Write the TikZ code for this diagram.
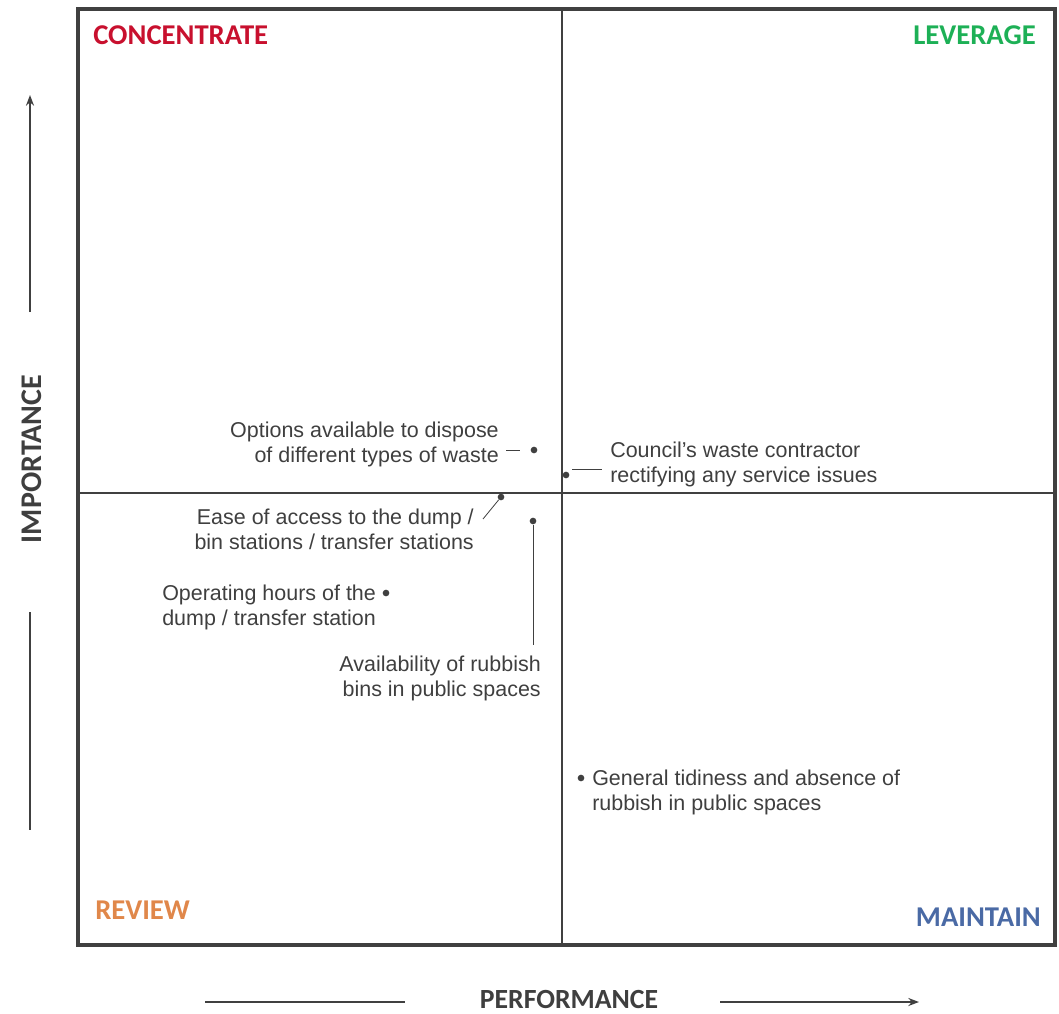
\documentclass[tikz,border=0pt]{standalone}
\usepackage{fontspec}
\setmainfont{Liberation Sans}
\newfontfamily\calib{Carlito}
\usetikzlibrary{arrows.meta}
\definecolor{txtgray}{HTML}{3F3F3F}
\definecolor{linegray}{HTML}{404040}
\definecolor{qred}{HTML}{C8102E}
\definecolor{qgreen}{HTML}{1DB056}
\definecolor{qorange}{HTML}{E0874A}
\definecolor{qblue}{HTML}{4A6AA5}
\tikzset{
  lbl/.style={inner sep=0pt, text=txtgray, font=\fontsize{16.1}{18.8}\selectfont},
  quad/.style={inner sep=0pt, font=\calib\bfseries\fontsize{21.5}{23}\selectfont},
  axislbl/.style={inner sep=0pt, text=txtgray, font=\calib\bfseries\fontsize{20.8}{22}\selectfont},
  pt/.style={circle, fill=linegray, inner sep=0pt, minimum size=5pt},
  leader/.style={draw=linegray, line width=0.6pt},
  frame/.style={draw=linegray, line width=2.5pt},
  divider/.style={draw=linegray, line width=1.5pt},
  axisline/.style={draw=linegray, line width=1.4pt},
  tip/.style={-{Stealth[length=8pt,width=6pt]}}
}
\begin{document}
\begin{tikzpicture}[x=0.75pt,y=-0.75pt]
\useasboundingbox (0,0) rectangle (1059,1013);
% frame and dividers
\draw[frame] (78,9) rectangle (1055,945);
\draw[divider] (562,9) -- (562,945);
\draw[divider] (78,493) -- (1055,493);
% quadrant labels
\node[quad, text=qred, anchor=west] (conc) at (93,35) {CONCENTRATE};
\node[quad, text=qgreen, anchor=east] (lev) at (1036,35) {LEVERAGE};
\node[quad, text=qorange, anchor=west] (rev) at (95,910) {REVIEW};
\node[quad, text=qblue, anchor=east] (main) at (1041,917) {MAINTAIN};
% axes
\node[axislbl, rotate=90, font=\calib\bfseries\fontsize{22.5}{24}\selectfont] (imp) at (32,459) {IMPORTANCE};
\coordinate (impTop) at (30,95);
\coordinate (impUpStart) at (30,312);
\coordinate (impLowA) at (30,612);
\coordinate (impLowB) at (30,830);
\draw[axisline, tip] (impUpStart) -- (impTop);
\draw[axisline] (impLowA) -- (impLowB);
\node[axislbl] (perf) at (569,999) {PERFORMANCE};
\coordinate (perfLA) at (205,1002);
\coordinate (perfLB) at (405,1002);
\coordinate (perfRA) at (720,1002);
\coordinate (perfRB) at (919,1002);
\draw[axisline] (perfLA) -- (perfLB);
\draw[axisline, tip] (perfRA) -- (perfRB);
% data points
\node[pt] (d1) at (534,450) {};
\node[pt] (d2) at (566,475) {};
\node[pt] (d3) at (501,497) {};
\node[pt] (d4) at (386,593) {};
\node[pt] (d5) at (533,521) {};
\node[pt] (d6) at (581,778) {};
% labels
\node[lbl, anchor=east, align=right] (t1) at (499,444.5) {Options available to dispose\\of different types of waste};
\node[lbl, anchor=west, align=left] (t2) at (610,464.5) {Council’s waste contractor\\rectifying any service issues};
\node[lbl, anchor=east, align=right] (t3) at (474,529) {Ease of access to the dump /\\bin stations / transfer stations};
\node[lbl, anchor=west, align=left] (t4) at (162,607) {Operating hours of the\\dump / transfer station};
\node[lbl, anchor=east, align=right] (t5) at (541,678.5) {Availability of rubbish\\bins in public spaces};
\node[lbl, anchor=west, align=left] (t6) at (592,792) {General tidiness and absence of\\rubbish in public spaces};
% leaders
\coordinate (l1a) at (506,450);
\coordinate (l1b) at (520,450);
\draw[leader] (l1a) -- (l1b);
\coordinate (l2a) at (572,469);
\coordinate (l2b) at (602,469);
\draw[leader] (l2a) -- (l2b);
\coordinate (l3a) at (483,519);
\draw[leader] (l3a) -- (d3);
\coordinate (l5b) at (533,645);
\draw[leader] (d5) -- (l5b);
\end{tikzpicture}
\end{document}
